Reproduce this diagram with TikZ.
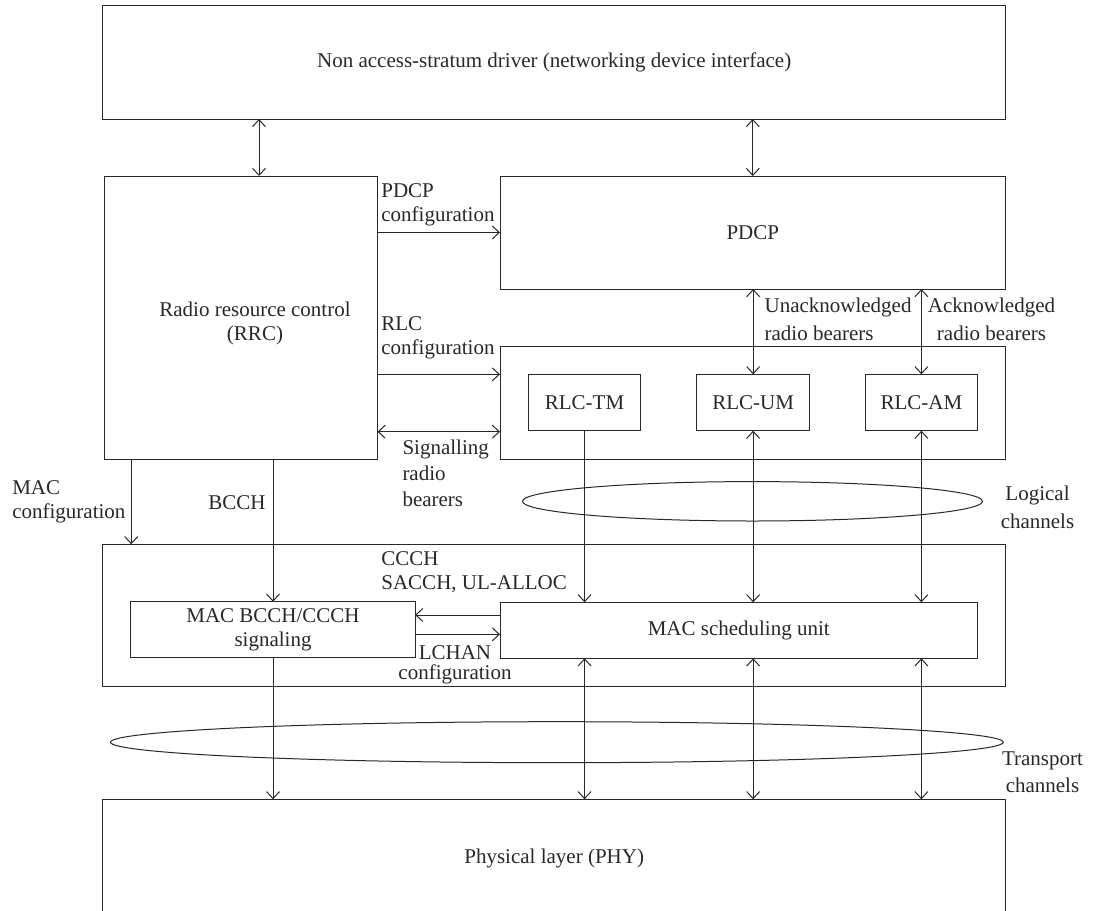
\documentclass[tikz,border=0pt]{standalone}
\usepackage{fontspec}
\setmainfont{Liberation Serif}
\usetikzlibrary{arrows.meta,shapes.geometric}
\definecolor{ln}{RGB}{40,40,40}
\begin{document}
\begin{tikzpicture}[x=1pt,y=-1pt,line width=1pt,color=ln,
  >={Straight Barb[length=7pt,width=13pt]},
  every node/.style={font=\fontsize{21}{24}\selectfont},
  box/.style={draw,inner sep=0pt,outer sep=0pt},
  lbl/.style={inner sep=0pt,outer sep=0pt}]
\path[use as bounding box] (0,0) rectangle (1096,911);
\clip (0,0) rectangle (1096,911);
% boxes
\node[box,minimum width=902.8pt,minimum height=113.3pt] (nas) at (554.2,62.35) {Non access-stratum driver (networking device interface)};
\node[box,minimum width=273.3pt,minimum height=283.3pt] (rrc) at (240.85,317.65) {};
\node[lbl,align=center] (rrct) at (255,323) {Radio resource control\\(RRC)};
\node[box,minimum width=505.6pt,minimum height=113pt] (pdcp) at (752.8,232.5) {PDCP};
\node[box,minimum width=505.6pt,minimum height=113.3pt] (rlc) at (752.8,402.65) {};
\node[box,minimum width=112.3pt,minimum height=56.4pt] (rlctm) at (584.55,402.5) {RLC-TM};
\node[box,minimum width=112.7pt,minimum height=56.4pt] (rlcum) at (753.15,402.5) {RLC-UM};
\node[box,minimum width=112.2pt,minimum height=56.4pt] (rlcam) at (921.4,402.5) {RLC-AM};
\node[box,minimum width=902.8pt,minimum height=141.7pt] (mac) at (554.2,615.15) {};
\node[box,minimum width=284.2pt,minimum height=56pt,align=center] (macb) at (273,629.7) {MAC BCCH/CCCH\\signaling};
\node[box,minimum width=477.5pt,minimum height=56pt] (sched) at (738.75,630.3) {MAC scheduling unit};
\node[box,minimum width=902.8pt,minimum height=118pt] (phy) at (554.2,858.3) {Physical layer (PHY)};
% channel ellipses
\node[draw,ellipse,inner sep=0pt,minimum width=460pt,minimum height=39.4pt] (logic) at (752.5,501.3) {};
\node[draw,ellipse,inner sep=0pt,minimum width=892.8pt,minimum height=41pt] (trans) at (556.9,742.2) {};
% helper coordinates
\coordinate (xa) at (259,0);
\coordinate (xm) at (131.2,0);
\coordinate (ysig) at (0,431.7);
\coordinate (yup) at (0,615);
\coordinate (ydn) at (0,634.3);
% connectors
\draw[<->] (nas.south -| xa) -- (rrc.north -| xa);
\draw[<->] (nas.south -| pdcp.north) -- (pdcp.north);
\draw[->] (rrc.east |- pdcp.west) -- (pdcp.west);
\draw[->] (rrc.east |- rlctm.north) -- (rlc.west |- rlctm.north);
\draw[<->] (rrc.east |- ysig) -- (rlc.west |- ysig);
\draw[<->] (pdcp.south -| rlcum.north) -- (rlcum.north);
\draw[<->] (pdcp.south -| rlcam.north) -- (rlcam.north);
\draw[->] (rrc.south -| xm) -- (mac.north -| xm);
\draw[->] (rrc.south -| macb.north) -- (macb.north);
\draw[->] (rlctm.south) -- (sched.north -| rlctm.south);
\draw[<->] (rlcum.south) -- (sched.north -| rlcum.south);
\draw[<->] (rlcam.south) -- (sched.north -| rlcam.south);
\draw[->] (sched.west |- yup) -- (macb.east |- yup);
\draw[->] (macb.east |- ydn) -- (sched.west |- ydn);
\draw[->] (macb.south) -- (phy.north -| macb.south);
\draw[<->] (sched.south -| rlctm.south) -- (phy.north -| rlctm.south);
\draw[<->] (sched.south -| rlcum.south) -- (phy.north -| rlcum.south);
\draw[<->] (sched.south -| rlcam.south) -- (phy.north -| rlcam.south);
% labels
\node[lbl,anchor=west,align=left] (lpdcp) at (381.4,205) {PDCP\\configuration};
\node[lbl,anchor=west,align=left] (lrlc) at (381.4,338) {RLC\\configuration};
\node[lbl,anchor=west,align=left,font=\fontsize{21}{26}\selectfont] (lsig) at (402.5,473) {Signalling\\radio\\bearers};
\node[lbl,anchor=west,align=left,font=\fontsize{21}{28}\selectfont] (lun) at (764.6,319) {Unacknowledged\\radio bearers};
\node[lbl,align=center,font=\fontsize{21}{28}\selectfont] (lack) at (991.5,319) {Acknowledged\\radio bearers};
\node[lbl,align=center,font=\fontsize{21}{28}\selectfont] (llog) at (1037.5,507.5) {Logical\\channels};
\node[lbl,anchor=west,align=left] (lmac) at (12.3,502.3) {MAC\\configuration};
\node[lbl] (lbcch) at (237,503) {BCCH};
\node[lbl,anchor=west,align=left] (lccch) at (381.4,571.7) {CCCH\\SACCH, UL-ALLOC};
\node[lbl,align=center,font=\fontsize{21}{20.5}\selectfont] (llchan) at (455,665) {LCHAN\\configuration};
\node[lbl,align=center,font=\fontsize{21}{27}\selectfont] (ltr) at (1042.5,772.7) {Transport\\channels};
\end{tikzpicture}
\end{document}
